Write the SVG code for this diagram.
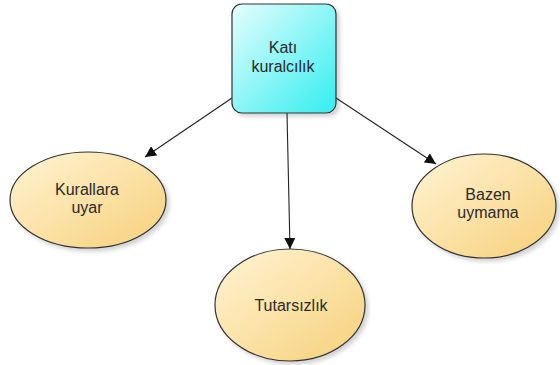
<svg xmlns="http://www.w3.org/2000/svg" width="560" height="365" viewBox="0 0 560 365">
  <defs>
    <linearGradient id="cyanFill" x1="0" y1="0" x2="1" y2="1">
      <stop offset="0" stop-color="#e6fdfd"/>
      <stop offset="1" stop-color="#33eef0"/>
    </linearGradient>
    <linearGradient id="yellowFill" x1="0" y1="0" x2="1" y2="1">
      <stop offset="0" stop-color="#fff4d4"/>
      <stop offset="1" stop-color="#f7d07a"/>
    </linearGradient>
    <marker id="arrow" viewBox="0 0 10 10" refX="10" refY="5" markerWidth="11" markerHeight="11" markerUnits="userSpaceOnUse" orient="auto">
      <path d="M0,0 L10,5 L0,10 Z" fill="#111"/>
    </marker>
    <filter id="shadow" x="-10%" y="-10%" width="130%" height="130%">
      <feGaussianBlur in="SourceAlpha" stdDeviation="2"/>
      <feOffset dx="3" dy="3"/>
      <feComponentTransfer><feFuncA type="linear" slope="0.18"/></feComponentTransfer>
      <feMerge><feMergeNode/><feMergeNode in="SourceGraphic"/></feMerge>
    </filter>
  </defs>
  <style>
    .box { fill: url(#cyanFill); stroke: #333; stroke-width: 1.2; filter: url(#shadow); }
    .oval { fill: url(#yellowFill); stroke: #333; stroke-width: 1.2; filter: url(#shadow); }
    .label { font-family: "Liberation Sans", Arial, sans-serif; font-size: 16px; fill: #2a2a2a; text-anchor: middle; }
    .edge { stroke: #222; stroke-width: 1.1; fill: none; marker-end: url(#arrow); }
  </style>
  <rect width="560" height="365" fill="#fff"/>

  <g id="connectors">
    <line class="edge" x1="232" y1="98" x2="145" y2="157"/>
    <line class="edge" x1="287" y1="113" x2="290" y2="249"/>
    <line class="edge" x1="336" y1="98" x2="436" y2="164"/>
  </g>

  <g id="kati-kuralcilik">
    <rect class="box" x="232" y="4" width="104" height="109" rx="10" ry="10"/>
    <text class="label" x="283" y="53">Katı</text>
    <text class="label" x="283" y="72">kuralcılık</text>
  </g>

  <g id="kurallara-uyar">
    <ellipse class="oval" cx="88" cy="200" rx="78" ry="48"/>
    <text class="label" x="87" y="195">Kurallara</text>
    <text class="label" x="87" y="213">uyar</text>
  </g>

  <g id="bazen-uymama">
    <ellipse class="oval" cx="484" cy="206" rx="72" ry="52"/>
    <text class="label" x="488" y="200">Bazen</text>
    <text class="label" x="488" y="218">uymama</text>
  </g>

  <g id="tutarsizlik">
    <ellipse class="oval" cx="290" cy="305" rx="75" ry="56"/>
    <text class="label" x="291" y="311">Tutarsızlık</text>
  </g>
</svg>
